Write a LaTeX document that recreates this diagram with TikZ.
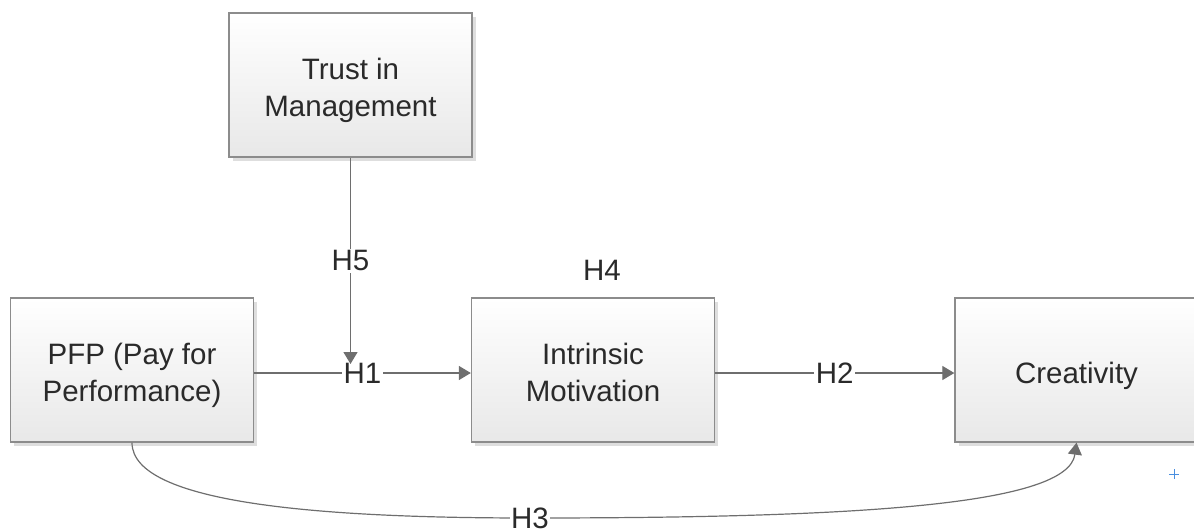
\documentclass[tikz,border=0pt]{standalone}
\usepackage{fontspec}
\setmainfont{Liberation Sans}
\usetikzlibrary{arrows.meta,shadows}
\definecolor{edgec}{HTML}{8C8C8C}
\definecolor{connc}{HTML}{6E6E6E}
\definecolor{txtc}{HTML}{2A2A2A}
\definecolor{plusc}{HTML}{4A8FE0}
\newcommand\boxtext[1]{\raisebox{-6pt}[\height][\depth]{\begin{tabular}{@{}c@{}}#1\end{tabular}}}
\tikzset{
 box/.style={draw=edgec, line width=1.3pt, top color=white, bottom color=black!9,
   minimum width=243pt, minimum height=144pt, inner sep=0pt, align=center,
   text=txtc, font=\fontsize{29.5}{37}\selectfont,
   general shadow={fill=black!13, shadow xshift=3.5pt, shadow yshift=-3.5pt}},
 conn/.style={draw=connc, line width=1.2pt, -{Triangle[length=12pt,width=14pt]}},
 lab/.style={fill=white, inner sep=1.5pt, text=txtc, font=\fontsize{29.5}{37}\selectfont},
}
\begin{document}
\begin{tikzpicture}[x=1pt,y=-1pt]
\useasboundingbox (0,0) rectangle (1194,530);
\node[box] (trust) at (350.5,85) {\boxtext{Trust in\\Management}};
\node[box] (pfp) at (132,370) {\boxtext{PFP (Pay for\\Performance)}};
\node[box] (im) at (593,370) {\boxtext{Intrinsic\\Motivation}};
\node[box] (cr) at (1076.5,370) {\boxtext{Creativity}};
\coordinate (h1top) at (351,364);
\draw[conn] ([yshift=-3pt]pfp.east) -- node[lab] (h1) {H1} ([yshift=-3pt]im.west);
\draw[conn] ([yshift=-3pt]im.east) -- node[lab] (h2) {H2} ([yshift=-3pt]cr.west);
\draw[conn] (trust.south) -- node[lab] (h5) {H5} (trust.south |- h1top);
\node[lab] (h4) at (602,270) {H4};
\draw[conn] (pfp.south) .. controls (132,505) and (330,518) .. (530,518) node[lab] (h3) {H3}
  .. controls (860,518) and (1068,505) .. (cr.south);
\draw[plusc, line width=0.7pt] (1169,474) -- (1179,474) (1174,469) -- (1174,479);
\end{tikzpicture}
\end{document}
